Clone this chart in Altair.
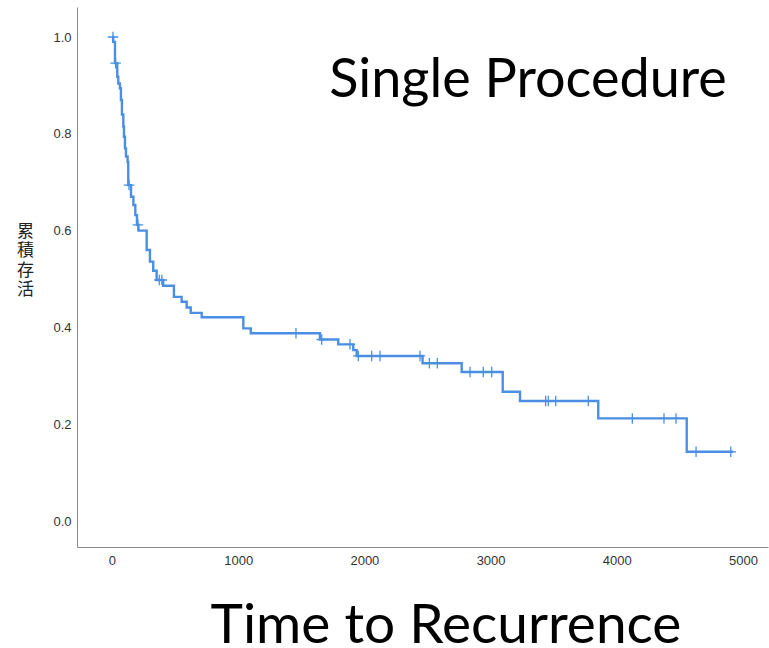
import altair as alt
import pandas as pd

# Kaplan-Meier step estimates (time, cumulative survival)
step_times = [0, 10, 24, 42, 50, 63, 71, 79, 90, 95, 103, 111, 124, 129, 151, 170, 185,
              198, 210, 275, 301, 327, 354, 406, 491, 552, 592, 624, 711, 1041, 1100,
              1648, 1793, 1912, 1939, 2461, 2771, 3096, 3233, 3853, 4554, 4923]
step_surv = [1.0, 0.99, 0.946, 0.918, 0.904, 0.894, 0.87, 0.84, 0.815, 0.794, 0.77, 0.753,
             0.742, 0.694, 0.67, 0.653, 0.632, 0.612, 0.600, 0.56, 0.536, 0.517, 0.498,
             0.486, 0.463, 0.453, 0.441, 0.430, 0.421, 0.398, 0.388, 0.375, 0.365, 0.353,
             0.341, 0.326, 0.308, 0.267, 0.248, 0.212, 0.143, 0.143]

# Censored observations
cens_times = [8, 29, 135, 206, 375, 395, 1458, 1662, 1886, 1952, 2058, 2124, 2441, 2515,
              2578, 2837, 2942, 3009, 3436, 3457, 3516, 3774, 4123, 4374, 4469, 4628, 4903]
cens_surv = [1.0, 0.946, 0.694, 0.612, 0.498, 0.498, 0.388, 0.375, 0.365, 0.341, 0.341,
             0.341, 0.341, 0.326, 0.326, 0.308, 0.308, 0.308, 0.248, 0.248, 0.248, 0.248,
             0.212, 0.212, 0.212, 0.143, 0.143]

x_ticks = [0, 1000, 2000, 3000, 4000, 5000]
y_ticks = [0.0, 0.2, 0.4, 0.6, 0.8, 1.0]

title_text = "Single Procedure"
xlabel_text = "Time to Recurrence"
ylabel_lines = ["累", "積", "存", "活"]

steps = pd.DataFrame({"t": step_times, "s": step_surv})
cens = pd.DataFrame({"t": cens_times, "s": cens_surv})

W, H = 691, 540
blue = "#4a8fe3"

xs = alt.Scale(domain=[-277, 5198], nice=False, zero=False)
ys = alt.Scale(domain=[-0.0537, 1.062], nice=False, zero=False)

x_axis = alt.Axis(values=x_ticks, format="d", ticks=False, grid=False, labelPadding=7,
                  labelFontSize=13, labelColor="#333333", labelFont="Liberation Sans",
                  domainColor="#8a8a8a", title=None)
y_axis = alt.Axis(values=y_ticks, format=".1f", ticks=False, grid=False, labelPadding=6,
                  labelFontSize=13, labelColor="#333333", labelFont="Liberation Sans",
                  domainColor="#8a8a8a", title=ylabel_lines, titleAngle=0,
                  titleFont="Noto Sans CJK TC", titleFontSize=17, titleFontWeight="normal",
                  titleColor="#222222", titleLineHeight=19.5, titleAlign="center",
                  titleBaseline="middle", titleX=-52, titleY=224)

line = alt.Chart(steps).mark_line(interpolate="step-after", color=blue, strokeWidth=2.4).encode(
    x=alt.X("t:Q", scale=xs, axis=x_axis),
    y=alt.Y("s:Q", scale=ys, axis=y_axis),
)

marks = alt.Chart(cens).mark_point(
    shape="M-1,0L1,0M0,-1L0,1", filled=False, color=blue, strokeWidth=1.3, size=110, opacity=1
).encode(x=alt.X("t:Q", scale=xs), y=alt.Y("s:Q", scale=ys))

title = alt.Chart(pd.DataFrame({"label": [title_text]})).mark_text(
    font="Lato", fontSize=54, color="#000000", align="center", baseline="alphabetic"
).encode(x=alt.value(451), y=alt.value(90), text="label:N")

xlabel = alt.Chart(pd.DataFrame({"label": [xlabel_text]})).mark_text(
    font="Lato", fontSize=55, color="#000000", align="center", baseline="alphabetic"
).encode(x=alt.value(369), y=alt.value(636), text="label:N")

chart = alt.layer(line, marks, title, xlabel).properties(
    width=W, height=H,
    autosize=alt.AutoSizeParams(type="none"),
    padding={"left": 77, "top": 7, "right": 1, "bottom": 101},
).configure(background="white").configure_view(strokeWidth=0, stroke="transparent")

chart.save("out.html", embed_options={"renderer": "svg", "actions": False})
